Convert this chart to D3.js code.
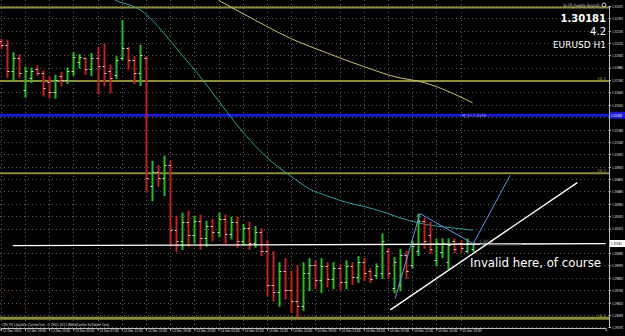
<!DOCTYPE html>
<html>
<head>
<meta charset="utf-8">
<script src="https://cdn.jsdelivr.net/npm/d3@7"></script>
<style>
  html, body { margin: 0; padding: 0; background: #000; overflow: hidden; }
  svg { display: block; }
  text { font-family: "DejaVu Sans", Verdana, sans-serif; }
</style>
</head>
<body>
<div id="main"></div>
<script>
// EURUSD H1 bars, 12 Dec 15:00 .. 15 Dec 21:00
const opens = [1.3214,1.3210,1.3185,1.3197,1.3166,1.3178,1.3187,1.3183,1.3174,1.3164,
  1.3180,1.3176,1.3185,1.3193,1.3197,1.3187,1.3197,1.3190,1.3185,1.3181,
  1.3197,1.3207,1.3195,1.3183,1.3197,1.3074,1.3087,1.3081,1.3094,1.3031,
  1.3021,1.3039,1.3026,1.3040,1.3023,1.3035,1.3029,1.3042,1.3027,1.3039,
  1.3021,1.3033,1.3019,1.3029,1.3011,1.2978,1.2971,1.2992,1.2973,1.2963,
  1.2958,1.2990,1.2997,1.2983,1.2996,1.2984,1.2994,1.2981,1.2996,1.2986,
  1.3000,1.2992,1.2988,1.2990,1.3011,1.2975,1.2978,1.3007,1.2997,1.3011,
  1.3040,1.3026,1.3002,1.3010,1.3000,1.3021,1.3019,1.3011,1.3013];
const highs = [1.3216,1.3215,1.3203,1.3201,1.3189,1.3188,1.3190,1.3185,1.3180,1.3181,
  1.3184,1.3188,1.3203,1.3201,1.3198,1.3202,1.3208,1.3211,1.3191,1.3199,
  1.3234,1.3208,1.3199,1.3210,1.3199,1.3098,1.3094,1.3103,1.3098,1.3045,
  1.3048,1.3050,1.3045,1.3046,1.3040,1.3042,1.3048,1.3046,1.3044,1.3044,
  1.3037,1.3039,1.3035,1.3033,1.3021,1.3011,1.3000,1.3004,1.2992,1.2997,
  1.3000,1.3004,1.3002,1.3004,1.3000,1.3000,1.2998,1.3002,1.3000,1.3006,
  1.3004,1.2994,1.2999,1.3028,1.3014,1.3005,1.3013,1.3011,1.3021,1.3047,
  1.3043,1.3039,1.3023,1.3023,1.3023,1.3023,1.3021,1.3023,1.3019];
const lows = [1.3207,1.3179,1.3176,1.3179,1.3160,1.3174,1.3181,1.3161,1.3159,1.3159,
  1.3171,1.3173,1.3181,1.3188,1.3182,1.3181,1.3163,1.3171,1.3164,1.3178,
  1.3196,1.3187,1.3173,1.3171,1.3069,1.3060,1.3074,1.3065,1.3016,1.3011,
  1.3013,1.3016,1.3019,1.3013,1.3016,1.3021,1.3025,1.3019,1.3023,1.3015,
  1.3017,1.3013,1.3015,1.3007,1.2968,1.2963,1.2958,1.2965,1.2952,1.2948,
  1.2954,1.2973,1.2975,1.2971,1.2977,1.2975,1.2973,1.2975,1.2979,1.2981,
  1.2983,1.2981,1.2985,1.2985,1.2985,1.2971,1.2973,1.2985,1.2995,1.3007,
  1.3014,1.3009,1.2997,1.3005,1.2994,1.3010,1.3011,1.3010,1.3011];
const closes = [1.3210,1.3185,1.3197,1.3183,1.3185,1.3185,1.3183,1.3168,1.3164,1.3176,
  1.3176,1.3185,1.3198,1.3198,1.3187,1.3197,1.3190,1.3183,1.3178,1.3195,
  1.3207,1.3195,1.3183,1.3200,1.3081,1.3087,1.3081,1.3094,1.3031,1.3021,
  1.3039,1.3026,1.3040,1.3023,1.3035,1.3029,1.3042,1.3027,1.3039,1.3021,
  1.3033,1.3019,1.3029,1.3011,1.2978,1.2971,1.2992,1.2973,1.2963,1.2958,
  1.2990,1.2997,1.2983,1.2996,1.2984,1.2994,1.2981,1.2996,1.2986,1.3000,
  1.2990,1.2984,1.2996,1.3021,1.2990,1.3000,1.3007,1.2992,1.3016,1.3040,
  1.3021,1.3013,1.3019,1.3019,1.3017,1.3013,1.3014,1.3019,1.30181];

const priceTicks = ["1.32475","1.32355","1.32235","1.32120","1.32000","1.31880","1.31760",
  "1.31640","1.31520","1.31400","1.31280","1.31160","1.31045","1.30920","1.30805","1.30685",
  "1.30565","1.30445","1.30325","1.30090","1.29970","1.29850","1.29730","1.29610","1.29490","1.29375"];
const timeLabels = ["12 Dec 2011","12 Dec 19:00","12 Dec 23:00","13 Dec 03:00","13 Dec 07:00",
  "13 Dec 11:00","13 Dec 15:00","13 Dec 19:00","13 Dec 23:00","14 Dec 03:00","14 Dec 07:00",
  "14 Dec 11:00","14 Dec 15:00","14 Dec 19:00","14 Dec 23:00","15 Dec 03:00","15 Dec 07:00",
  "15 Dec 11:00","15 Dec 15:00","15 Dec 19:00"];

// moving averages (bar index, price)
const tealIdx = [16,19,22,23,25,27,30,33,36,39,42,45,48,51,54,57,60,63,66,69,72,75,78];
const tealVals = [1.3265,1.3253,1.3247,1.3244,1.3234,1.3221,1.3200,1.3179,1.3156,1.3133,
  1.3113,1.3096,1.3083,1.3071,1.3064,1.3058,1.3054,1.3049,1.3043,1.3038,1.3035,1.3033,1.3031];
const khakiIdx = [36,42,48,54,60,66,69,78];
const khakiVals = [1.3253,1.3234,1.3216,1.3202,1.3189,1.3178,1.3175,1.3154];

// horizontal levels
const oliveLevels = [1.3246,1.3175,1.3086,1.2946];
const blueLevel = 1.3142;
const currentPrice = 1.30181;

// drawn objects
const flatIdx = [2,100], flatVals = [1.3016,1.3018];
const trendIdx = [64.4,95.3], trendVals = [1.2954,1.3077];
const zigIdx = [65.2,69.3,78.1,84.2], zigVals = [1.2965,1.3047,1.3018,1.3084];
const dotIdx = [-1,5.7], dotVals = [1.2981,1.2949];

const width = 625, height = 336;
const plotRight = 609, plotBottom = 328;

const x = d3.scaleLinear().domain([0, 100]).range([0.7, 605.7]);
const y = d3.scaleLinear().domain([1.29375, 1.32475]).range([327, 6]);

const svg = d3.select("#main").append("svg").attr("width", width).attr("height", height)
  .style("background", "#000");

svg.append("defs").append("clipPath").attr("id", "plot")
  .append("rect").attr("x", 0).attr("y", 0).attr("width", plotRight).attr("height", plotBottom);

const plot = svg.append("g").attr("clip-path", "url(#plot)");

// grid
plot.append("g").selectAll("line").data(priceTicks).join("line")
  .attr("x1", 0).attr("x2", plotRight)
  .attr("y1", (d) => Math.round(y(+d)) + 0.5).attr("y2", (d) => Math.round(y(+d)) + 0.5)
  .attr("stroke", "#5a5a5a").attr("stroke-dasharray", "1,3");
plot.append("g").selectAll("line").data(timeLabels).join("line")
  .attr("x1", (d, i) => Math.round(x(i * 4)) + 0.5).attr("x2", (d, i) => Math.round(x(i * 4)) + 0.5)
  .attr("y1", 0).attr("y2", plotBottom)
  .attr("stroke", "#5a5a5a").attr("stroke-dasharray", "1,3");

// horizontal levels
plot.selectAll(".olive").data(oliveLevels).join("line").attr("class", "olive")
  .attr("x1", 0).attr("x2", plotRight)
  .attr("y1", (d) => y(d)).attr("y2", (d) => y(d))
  .attr("stroke", "#8c8c3c").attr("stroke-width", (d, i) => (i === 3 ? 3 : 2));
plot.append("line").attr("x1", 0).attr("x2", plotRight)
  .attr("y1", y(blueLevel)).attr("y2", y(blueLevel))
  .attr("stroke", "#1a1ad0").attr("stroke-width", 3);
plot.append("text").attr("x", 462).attr("y", y(blueLevel) + 2.2)
  .attr("fill", "#9a9ad0").attr("font-size", 4.5).attr("textLength", 24)
  .attr("lengthAdjust", "spacingAndGlyphs").text("M_S1 1.3140");

// moving averages
const line = d3.line().x((d) => x(d[0])).y((d) => y(d[1])).curve(d3.curveMonotoneX);
plot.append("path").datum(tealIdx.map((d, i) => [d, tealVals[i]])).attr("d", line)
  .attr("fill", "none").attr("stroke", "#2f9e9a").attr("stroke-width", 1);
plot.append("path").datum(khakiIdx.map((d, i) => [d, khakiVals[i]])).attr("d", line)
  .attr("fill", "none").attr("stroke", "#c8c070").attr("stroke-width", 1);

// dotted red trendline
const straight = d3.line().x((d) => x(d[0])).y((d) => y(d[1]));
plot.append("path").datum(dotIdx.map((d, i) => [d, dotVals[i]])).attr("d", straight)
  .attr("stroke", "#8a1a1a").attr("stroke-dasharray", "1,2").attr("fill", "none");

// OHLC bars
const bars = plot.append("g").selectAll("g").data(opens).join("g")
  .attr("stroke", (d, i) => (closes[i] >= d ? "#1fbf1f" : "#c81e1e"));
bars.append("line")
  .attr("x1", (d, i) => Math.round(x(i)) + 0.5).attr("x2", (d, i) => Math.round(x(i)) + 0.5)
  .attr("y1", (d, i) => y(highs[i])).attr("y2", (d, i) => y(lows[i]) + 1)
  .attr("stroke-width", 2);
bars.append("line")
  .attr("x1", (d, i) => Math.round(x(i)) - 1.5).attr("x2", (d, i) => Math.round(x(i)) + 0.5)
  .attr("y1", (d) => Math.round(y(d)) + 0.5).attr("y2", (d) => Math.round(y(d)) + 0.5)
  .attr("stroke", "#d8d8d8");
bars.append("line")
  .attr("x1", (d, i) => Math.round(x(i)) + 0.5).attr("x2", (d, i) => Math.round(x(i)) + 2.5)
  .attr("y1", (d, i) => Math.round(y(closes[i])) + 0.5).attr("y2", (d, i) => Math.round(y(closes[i])) + 0.5)
  .attr("stroke", "#d8d8d8");

// drawn objects
plot.append("path").datum(flatIdx.map((d, i) => [d, flatVals[i]])).attr("d", straight)
  .attr("stroke", "#ffffff").attr("stroke-width", 1.3).attr("fill", "none");
plot.append("line").attr("x1", 480).attr("x2", 522)
  .attr("y1", y(1.3017)).attr("y2", y(1.3017)).attr("stroke", "#777").attr("stroke-width", 1.3);
plot.append("text").attr("x", 479).attr("y", y(1.3017) - 1.5)
  .attr("fill", "#888").attr("font-size", 4.5).attr("textLength", 14)
  .attr("lengthAdjust", "spacingAndGlyphs").text("1.3026");
plot.append("path").datum(trendIdx.map((d, i) => [d, trendVals[i]])).attr("d", straight)
  .attr("stroke", "#ffffff").attr("stroke-width", 1.4).attr("fill", "none");
plot.append("path").datum(zigIdx.map((d, i) => [d, zigVals[i]])).attr("d", straight)
  .attr("stroke", "#6d8ee6").attr("stroke-width", 1).attr("fill", "none");

plot.append("text").attr("x", 470).attr("y", 267).attr("fill", "#fff")
  .attr("font-family", "Liberation Sans, Arial, sans-serif").attr("font-size", 12)
  .attr("textLength", 131).attr("lengthAdjust", "spacingAndGlyphs")
  .text("Invalid here, of course");

// top-right info
plot.append("text").attr("x", 600).attr("y", 7).attr("text-anchor", "end")
  .attr("fill", "#cfcfcf").attr("font-size", 4.5).attr("textLength", 37)
  .attr("lengthAdjust", "spacingAndGlyphs").text("SL-TP_Investo-Round1");
plot.append("circle").attr("cx", 604).attr("cy", 5).attr("r", 2).attr("fill", "none").attr("stroke", "#ccc");
const info = [["1.30181", 22, 10, "bold"], ["4.2", 35, 10, "normal"], ["EURUSD H1", 48, 9, "normal"]];
plot.selectAll(".info").data(info).join("text").attr("class", "info")
  .attr("x", 606).attr("y", (d) => d[1]).attr("text-anchor", "end")
  .attr("fill", "#fff").attr("font-family", "Liberation Sans, Arial, sans-serif")
  .attr("font-size", (d) => d[2]).attr("font-weight", (d) => d[3]).text((d) => d[0]);

// small level labels
plot.selectAll(".lvl").data(oliveLevels.slice(1)).join("text").attr("class", "lvl")
  .attr("x", 606).attr("y", (d) => y(d) - 1.5).attr("text-anchor", "end")
  .attr("fill", "#8c8c3c").attr("font-size", 4).text("38.2");

plot.append("text").attr("x", 2).attr("y", 326).attr("fill", "#ddd").attr("font-size", 4)
  .attr("textLength", 108).attr("lengthAdjust", "spacingAndGlyphs")
  .text("(29) FX Liquidity Connection, © 2001-2011 MetaQuotes Software Corp.");

// price boxes on axis cover their own tick labels
const boxes = [[blueLevel, "#1a1ad0", "1.31400", "#fff"], [currentPrice, "#fff", "1.30181", "#000"]];
const boxed = boxes.map((b) => b[2]);

// price axis
const yAxis = svg.append("g").attr("transform", `translate(${plotRight},0)`)
  .call(d3.axisRight(y).tickValues(priceTicks.map(Number)).tickSize(2).tickPadding(1)
    .tickFormat((d) => {
      const t = priceTicks.find((p) => +p === d);
      return boxed.includes(t) ? "" : t;
    }));
yAxis.select(".domain").attr("stroke", "#bbb");
yAxis.selectAll("line").attr("stroke", "#bbb");
yAxis.selectAll("text").filter(function () { return this.textContent !== ""; })
  .attr("fill", "#e0e0e0").attr("font-size", 4.2)
  .attr("textLength", 11).attr("lengthAdjust", "spacingAndGlyphs");

boxes.forEach((b) => {
  svg.append("rect").attr("x", plotRight + 1).attr("y", y(b[0]) - 3.5).attr("width", 15).attr("height", 7).attr("fill", b[1]);
  svg.append("text").attr("x", plotRight + 2).attr("y", y(b[0]) + 1.6).attr("fill", b[3])
    .attr("font-size", 4.2).attr("textLength", 11).attr("lengthAdjust", "spacingAndGlyphs").text(b[2]);
});

// time axis
const xAxis = svg.append("g").attr("transform", `translate(0,${plotBottom})`)
  .call(d3.axisBottom(x).tickValues(timeLabels.map((d, i) => i * 4)).tickSize(3).tickPadding(0)
    .tickFormat((d) => timeLabels[d / 4]));
xAxis.select(".domain").attr("stroke", "#bbb");
xAxis.selectAll("line").attr("stroke", "#bbb");
xAxis.selectAll("text").attr("fill", "#e0e0e0").attr("font-size", 4.2)
  .attr("text-anchor", "start").attr("dx", 1.5).attr("dy", "0.3em")
  .attr("textLength", 19).attr("lengthAdjust", "spacingAndGlyphs");
</script>
</body>
</html>
